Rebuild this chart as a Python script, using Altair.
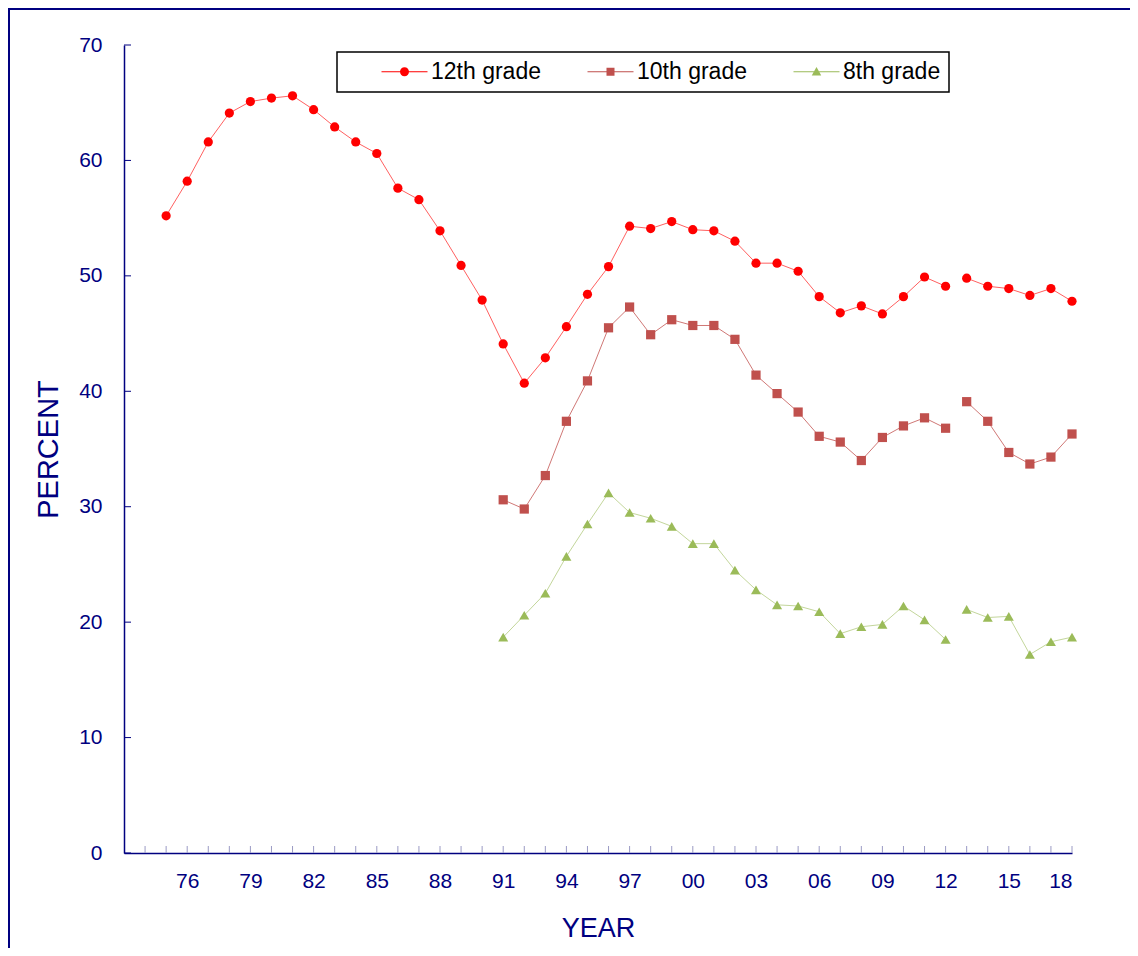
import altair as alt
import pandas as pd

# ---------------- data ----------------
years12 = list(range(1975, 2019))
g12 = [55.2, 58.2, 61.6, 64.1, 65.1, 65.4, 65.6, 64.4, 62.9, 61.6, 60.6, 57.6, 56.6, 53.9,
       50.9, 47.9, 44.1, 40.7, 42.9, 45.6, 48.4, 50.8, 54.3, 54.1, 54.7, 54.0, 53.9, 53.0,
       51.1, 51.1, 50.4, 48.2, 46.8, 47.4, 46.7, 48.2, 49.9, 49.1, 49.8, 49.1, 48.9, 48.3,
       48.9, 47.8]
years_lower = list(range(1991, 2019))
g10 = [30.6, 29.8, 32.7, 37.4, 40.9, 45.5, 47.3, 44.9, 46.2, 45.7, 45.7, 44.5, 41.4, 39.8,
       38.2, 36.1, 35.6, 34.0, 36.0, 37.0, 37.7, 36.8, 39.1, 37.4, 34.7, 33.7, 34.3, 36.3]
g8 = [18.7, 20.6, 22.5, 25.7, 28.5, 31.2, 29.5, 29.0, 28.3, 26.8, 26.8, 24.5, 22.8, 21.5,
      21.4, 20.9, 19.0, 19.6, 19.8, 21.4, 20.2, 18.5, 21.1, 20.4, 20.5, 17.2, 18.3, 18.7]

grades = ["12th grade", "10th grade", "8th grade"]
marker_colors = ["#FF0000", "#C0504D", "#9BBB59"]
line_colors = ["#FF6060", "#D07876", "#C3D69B"]
shapes = ["circle", "square", "triangle-up"]
sizes = [85, 85, 100]
break_after = 2012

y_ticks = list(range(0, 71, 10))
x_tick_years = list(range(1974, 2019))
x_label_years = list(range(1976, 2019, 3))

rows = []
for g, ys, vs in [(grades[0], years12, g12), (grades[1], years_lower, g10), (grades[2], years_lower, g8)]:
    for yr, v in zip(ys, vs):
        rows.append({"year": yr, "grade": g, "value": v, "seg": "a" if yr <= break_after else "b"})
df = pd.DataFrame(rows)

NAVY = "#000080"
FONT = "Liberation Sans"
W, H = 948, 808

xscale = alt.Scale(domain=[1973, 2018], nice=False, zero=False)
yscale = alt.Scale(domain=[0, 70], nice=False)

xaxis = alt.Axis(values=x_label_years, grid=False, ticks=False, tickSize=0,
                 labelExpr="slice(toString(datum.value), 2)",
                 labelFontSize=21, labelColor=NAVY, labelFont=FONT, labelPadding=17,
                 domainColor=NAVY, domainWidth=1.5,
                 title="YEAR", titleFontSize=27, titleFontWeight="normal",
                 titleColor=NAVY, titleFont=FONT, titlePadding=24)
yaxis = alt.Axis(values=y_ticks, grid=False, ticks=False, tickSize=0,
                 labelFontSize=21, labelColor=NAVY, labelFont=FONT, labelPadding=22,
                 domainColor=NAVY, domainWidth=1.5,
                 title="PERCENT", titleFontSize=29, titleFontWeight="normal",
                 titleColor=NAVY, titleFont=FONT, titlePadding=15)
X = alt.X("year:Q", scale=xscale, axis=xaxis)
Y = alt.Y("value:Q", scale=yscale, axis=yaxis)

line_layers = []
point_layers = []
for g, sh, sz, c, lc in zip(grades, shapes, sizes, marker_colors, line_colors):
    base = alt.Chart(df).transform_filter(alt.datum.grade == g)
    line_layers.append(
        base.mark_line(strokeWidth=1, color=lc).encode(x=X, y=Y, detail="seg:N")
    )
    point_layers.append(
        base.mark_point(filled=True, shape=sh, size=sz, opacity=1, color=c).encode(x=X, y=Y)
    )

# legend symbols: short line + marker
seg = "M5.0,-0.12H14.2V0.12H5.0Z "
legend_paths = [
    seg + "M9.6,-0.9A0.9,0.9 0 1,1 9.6,0.9A0.9,0.9 0 1,1 9.6,-0.9Z",
    seg + "M8.8,-0.8H10.4V0.8H8.8Z",
    seg + "M9.6,-0.95L10.55,0.75L8.65,0.75Z",
]
NBSP = "\u00a0" * 6
leg = alt.Legend(title=None, orient="none", legendX=213, legendY=7,
                 direction="horizontal", columns=3, gridAlign="each",
                 columnPadding=10, padding=8, strokeColor="black",
                 fillColor="white", labelFontSize=23, labelFont=FONT,
                 labelColor="black", labelOffset=63, symbolSize=100,
                 symbolStrokeWidth=0, symbolOpacity=1,
                 labelExpr="datum.label == '8th grade' ? datum.label + '" + NBSP + "' : datum.label")
legend_layer = alt.Chart(df).mark_point(filled=True, opacity=0).encode(
    x=X, y=Y,
    fill=alt.Fill("grade:N", scale=alt.Scale(domain=grades, range=marker_colors), legend=leg),
    shape=alt.Shape("grade:N", scale=alt.Scale(domain=grades, range=legend_paths), legend=leg),
)

# inner tick marks
ytick_df = pd.DataFrame({"value": y_ticks})
yticks = alt.Chart(ytick_df).mark_rule(color=NAVY, strokeWidth=1).encode(
    y=Y, x=alt.value(0), x2=alt.value(7))
xtick_df = pd.DataFrame({"year": x_tick_years})
xticks = alt.Chart(xtick_df).mark_rule(color="#9a9ac4", strokeWidth=1).encode(
    x=X, y=alt.value(H - 7), y2=alt.value(H))

# outer frame
frame = alt.Chart(pd.DataFrame({"k": [0]})).mark_rect(fillOpacity=0, stroke=NAVY, strokeWidth=2).encode(
    x=alt.value(-115), x2=alt.value(W + 200), y=alt.value(-36), y2=alt.value(H + 200))

chart = alt.layer(frame, yticks, xticks, *line_layers, *point_layers, legend_layer).properties(
    width=W, height=H,
    background="white",
    autosize=alt.AutoSizeParams(type="none"),
    padding={"left": 116, "top": 37, "right": 58, "bottom": 95},
).configure_view(strokeWidth=0, stroke=None).configure_legend(strokeWidth=1.5)

chart.save("out.html", embed_options={"renderer": "svg", "actions": False})
